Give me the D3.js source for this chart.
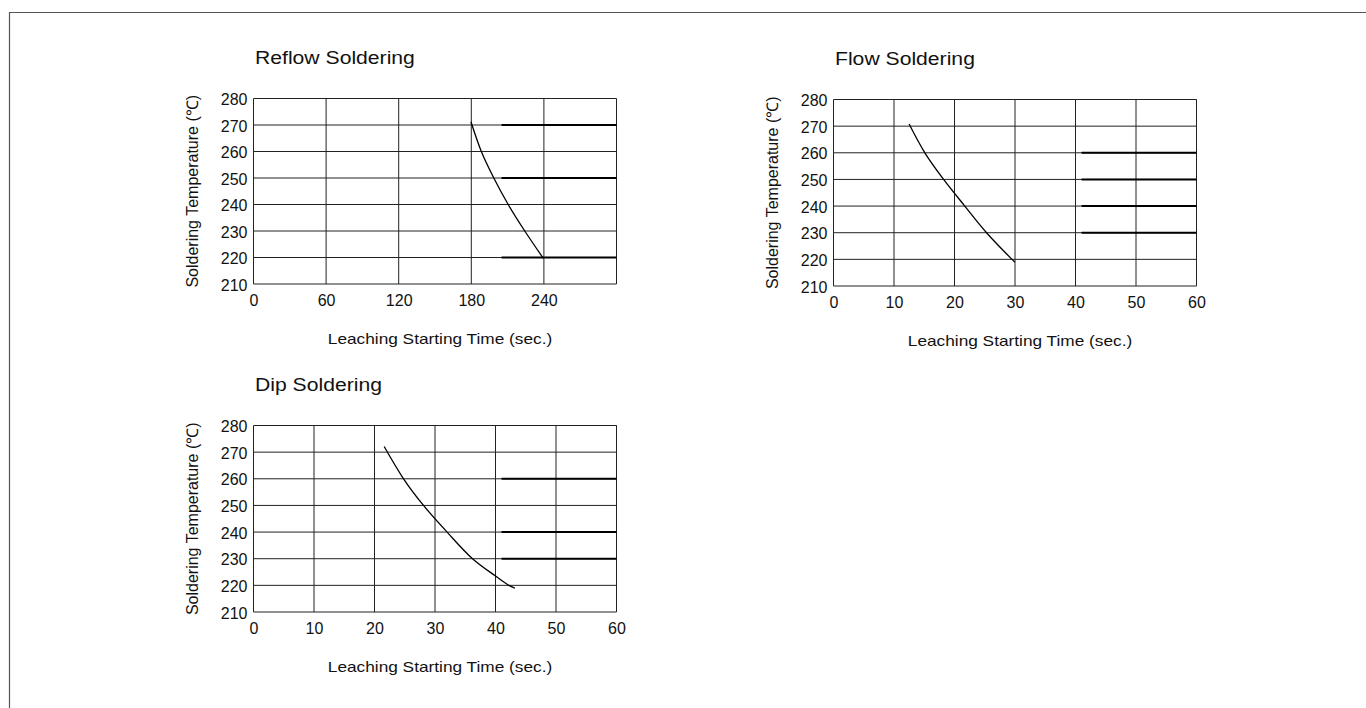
<!DOCTYPE html>
<html>
<head>
<meta charset="utf-8">
<script src="https://cdn.jsdelivr.net/npm/d3@7"></script>
<style>
  html, body { margin: 0; padding: 0; background: #fff; }
  svg { display: block; }
  text { font-family: "Liberation Sans", Arial, sans-serif; fill: #111; }
</style>
</head>
<body>
<svg id="chart" width="1366" height="708"></svg>
<script>
// ---------------- data ----------------
const yTicks = [210, 220, 230, 240, 250, 260, 270, 280];

const reflowTitle = "Reflow Soldering";
const reflowXTicks = [0, 60, 120, 180, 240];
const reflowXDomain = [0, 300];
const reflowCurve = [[179.7, 271.2], [188.3, 260], [198.6, 250], [210.5, 240], [224.2, 230], [239.5, 219.7]];
const reflowLevels = [270, 250, 220];
const reflowLevelStart = 205;

const flowTitle = "Flow Soldering";
const flowXTicks = [0, 10, 20, 30, 40, 50, 60];
const flowXDomain = [0, 60];
const flowCurve = [[12.5, 270.8], [15.1, 260], [18.2, 250], [21.7, 240], [25.3, 230], [29.5, 220], [30.0, 218.9]];
const flowLevels = [260, 250, 240, 230];
const flowLevelStart = 41;

const dipTitle = "Dip Soldering";
const dipXTicks = [0, 10, 20, 30, 40, 50, 60];
const dipXDomain = [0, 60];
const dipCurve = [[21.6, 272.1], [24.8, 260], [28.1, 250], [32.0, 240], [36.2, 230], [40.0, 223.5], [42.2, 220], [43.2, 219.0]];
const dipLevels = [260, 240, 230];
const dipLevelStart = 41;

const xLabel = "Leaching Starting Time (sec.)";
const yLabel = "Soldering Temperature (\u2103)";

// ---------------- drawing ----------------
const svg = d3.select("#chart");

// outer frame
svg.append("path")
  .attr("d", "M9.5,708 L9.5,12.5 L1366,12.5")
  .attr("fill", "none").attr("stroke", "#555").attr("stroke-width", 1.2);

function stretch(sel, factor) {
  sel.each(function () {
    const w = this.getComputedTextLength();
    d3.select(this).attr("textLength", w * factor).attr("lengthAdjust", "spacingAndGlyphs");
  });
}

function panel(cfg) {
  const g = svg.append("g");
  const x = d3.scaleLinear().domain(cfg.xDomain).range([cfg.x0, cfg.x1]);
  const y = d3.scaleLinear().domain([210, 280]).range([cfg.y1, cfg.y0]);

  // horizontal grid
  g.append("g").selectAll("line").data(yTicks).join("line")
    .attr("x1", cfg.x0).attr("x2", cfg.x1)
    .attr("y1", d => y(d)).attr("y2", d => y(d))
    .attr("stroke", "#222").attr("stroke-width", 1);
  // vertical grid
  const vx = cfg.xTicks.concat([cfg.xDomain[1]]);
  g.append("g").selectAll("line").data(vx).join("line")
    .attr("x1", d => x(d)).attr("x2", d => x(d))
    .attr("y1", cfg.y0).attr("y2", cfg.y1)
    .attr("stroke", "#222").attr("stroke-width", 1);

  // thick level segments
  g.append("g").selectAll("line").data(cfg.levels).join("line")
    .attr("x1", x(cfg.levelStart)).attr("x2", x(cfg.xDomain[1]))
    .attr("y1", d => y(d)).attr("y2", d => y(d))
    .attr("stroke", "#000").attr("stroke-width", 2);

  // curve
  const line = d3.line().x(d => x(d[0])).y(d => y(d[1])).curve(d3.curveCatmullRom.alpha(0.5));
  g.append("path").datum(cfg.curve)
    .attr("d", line)
    .attr("fill", "none").attr("stroke", "#000").attr("stroke-width", 1.3);

  // axes (labels only)
  const ya = d3.axisLeft(y).tickValues(yTicks).tickSize(0).tickPadding(6);
  const yg = g.append("g").attr("transform", `translate(${cfg.x0},1)`).call(ya);
  yg.select(".domain").remove();
  yg.selectAll("text").attr("font-size", 16).attr("fill", "#111")
    .attr("font-family", '"Liberation Sans", Arial, sans-serif');

  const xa = d3.axisBottom(x).tickValues(cfg.xTicks).tickSize(0).tickPadding(11);
  const xg = g.append("g").attr("transform", `translate(0,${cfg.y1})`).call(xa);
  xg.select(".domain").remove();
  xg.selectAll("text").attr("font-size", 16).attr("fill", "#111")
    .attr("font-family", '"Liberation Sans", Arial, sans-serif');

  // title
  g.append("text").attr("x", cfg.x0 + 1.5).attr("y", cfg.y0 - 34.5)
    .attr("font-size", 18).text(cfg.title).call(stretch, 1.175);
  // x label
  g.append("text").attr("x", (cfg.x0 + cfg.x1) / 2 + 5).attr("y", cfg.y1 + 60)
    .attr("text-anchor", "middle").attr("font-size", 15).text(xLabel).call(stretch, 1.15);
  // y label
  g.append("text")
    .attr("transform", `translate(${cfg.x0 - 56},${(cfg.y0 + cfg.y1) / 2}) rotate(-90)`)
    .attr("text-anchor", "middle").attr("font-size", 16).text(yLabel);
}

panel({ title: reflowTitle, xDomain: reflowXDomain, xTicks: reflowXTicks, curve: reflowCurve,
        levels: reflowLevels, levelStart: reflowLevelStart,
        x0: 253.5, x1: 616.5, y0: 98.5, y1: 284 });
panel({ title: flowTitle, xDomain: flowXDomain, xTicks: flowXTicks, curve: flowCurve,
        levels: flowLevels, levelStart: flowLevelStart,
        x0: 833.5, x1: 1196.5, y0: 99.5, y1: 286 });
panel({ title: dipTitle, xDomain: dipXDomain, xTicks: dipXTicks, curve: dipCurve,
        levels: dipLevels, levelStart: dipLevelStart,
        x0: 253.5, x1: 616.5, y0: 425.5, y1: 612 });
</script>
</body>
</html>
